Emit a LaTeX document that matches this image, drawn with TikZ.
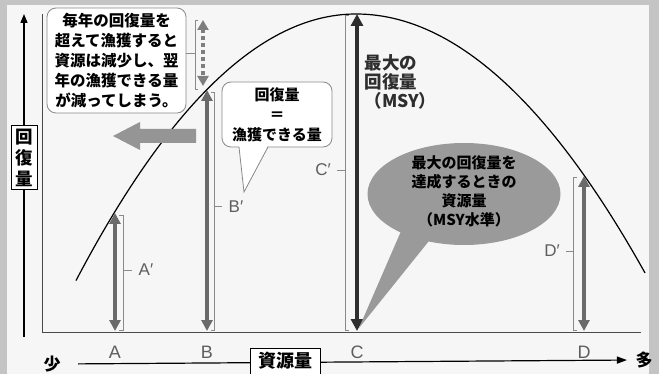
\documentclass[tikz,border=0pt]{standalone}
\usepackage{fontspec}
\setmainfont{Noto Sans CJK JP}
\newfontfamily\latinf{Liberation Sans}
\usetikzlibrary{arrows.meta,shapes.geometric}
\definecolor{bgout}{HTML}{C4C4C4}
\definecolor{bgin}{HTML}{F6F6F6}
\definecolor{arrgray}{HTML}{6A6A6A}
\definecolor{darkarr}{HTML}{2E2E2E}
\definecolor{lightarr}{HTML}{7E7E7E}
\definecolor{blockarr}{HTML}{959595}
\definecolor{ellfill}{HTML}{9A9A9A}
\definecolor{thinline}{HTML}{8A8A8A}
\definecolor{lbl}{HTML}{5E5E5E}
\definecolor{framec}{HTML}{4A4A4A}
\begin{document}
\begin{tikzpicture}[x=1pt,y=-1pt,
  grayarrow/.style={line width=3.6pt, arrgray, {Triangle[width=11pt,length=11pt]}-{Triangle[width=11pt,length=11pt]}},
  darkarrow/.style={line width=4pt, darkarr, {Triangle[width=12pt,length=12pt]}-{Triangle[width=12pt,length=12pt]}},
  dasharrow/.style={line width=3.6pt, lightarr, dash pattern=on 4pt off 3pt, {Triangle[width=11pt,length=10pt]}-{Triangle[width=11pt,length=10pt]}},
  bracketline/.style={thinline, line width=0.7pt},
  letterlbl/.style={font=\latinf\fontsize{18}{18}\selectfont, text=lbl},
  primelbl/.style={font=\latinf\fontsize{17}{17}\selectfont, text=lbl},
  callbox/.style={draw=thinline, line width=0.8pt, fill=white, rounded corners=9pt, align=center, inner sep=0pt},
  boldtxt/.style={font=\bfseries\fontsize{15.5}{19.8}\selectfont},
  axisbox/.style={draw=black, line width=1pt, fill=white, inner sep=1pt, font=\bfseries\fontsize{17.5}{21}\selectfont, align=center},
]
\useasboundingbox (0,0) rectangle (659,374);
% background
\fill[bgout] (0,0) rectangle (659,374);
\fill[bgin] (7,5) rectangle (649,374);

% plot frame
\coordinate (f0) at (42,14);
\coordinate (f1) at (42,332);
\coordinate (f2) at (641,332);
\draw[framec, line width=1pt] (f0) -- (f1) -- (f2);

% vertical axis with label box
\node[axisbox, minimum width=26pt, minimum height=64pt] (vax) at (24,158) {回\\復\\量};
\coordinate (vtop) at (24,14);
\coordinate (vbot) at (24,337);
\draw[line width=1.3pt, -{Triangle[width=7pt,length=9pt]}] (vax.north) -- (vtop);
\draw[line width=1.3pt] (vax.south) -- (vbot);

% horizontal axis
\node[font=\bfseries\fontsize{17}{17}\selectfont] (few) at (52,364) {少};
\node[font=\bfseries\fontsize{17}{17}\selectfont] (many) at (644,360) {多};
\draw[line width=1.2pt, -{Triangle[width=7pt,length=10pt]}, shorten <=14pt, shorten >=5pt] (few.east) -- (many.west);
\node[axisbox, minimum width=70pt, minimum height=26pt, font=\bfseries\fontsize{18}{18}\selectfont] (res) at (285,361) {資源量};

% curve
\draw[line width=1.2pt, black] plot[domain=76:356, samples=80] (\x, {14+34*((\x-356)/100)^2})
  -- plot[domain=356:645, samples=80] (\x, {14+31*((\x-356)/100)^2});

% letters on axis
\node[letterlbl] (lA) at (115,352) {A};
\node[letterlbl] (lB) at (207,352) {B};
\node[letterlbl] (lC) at (357,352) {C};
\node[letterlbl] (lD) at (584,352) {D};

% endpoints
\coordinate (Atop) at (115,213);
\coordinate (Abot) at (115,331);
\coordinate (Btop) at (207,90);
\coordinate (Bbot) at (207,331);
\coordinate (Ctop) at (357,14);
\coordinate (Cbot) at (357,331);
\coordinate (Dtop) at (584,176);
\coordinate (Dbot) at (584,331);
\coordinate (Etop) at (203,20);
\coordinate (Ebot) at (203,86);

% brackets
\draw[bracketline] (119,215) -- (123,215) -- (123,330) -- (119,330);
\draw[bracketline] (123,270) -- (132,270);
\node[primelbl] (pA) at (146,270) {A′};

\draw[bracketline] (211,92) -- (214,92) -- (214,330) -- (211,330);
\draw[bracketline] (214,206) -- (222,206);
\node[primelbl] (pB) at (236,207) {B′};

\draw[bracketline] (349,15) -- (345,15) -- (345,330) -- (349,330);
\draw[bracketline] (345,170) -- (337,170);
\node[primelbl] (pC) at (323,170) {C′};

\draw[bracketline] (577,177) -- (573,177) -- (573,330) -- (577,330);
\draw[bracketline] (573,251) -- (566,251);
\node[primelbl] (pD) at (552,251) {D′};

% top-left callout
\node[callbox, boldtxt, minimum width=139pt, minimum height=105pt] (warn) at (116.5,60.5)
  {毎年の回復量を\\超えて漁獲すると\\資源は減少し、翌\\年の漁獲できる量\\が減ってしまう。};
\draw[bracketline] (198,20) -- (195,20) -- (195,89) -- (198,89);
\draw[bracketline] (195,53) -- (warn.east |- 0,53);

% arrows
\draw[grayarrow] (Atop) -- (Abot);
\draw[grayarrow] (Btop) -- (Bbot);
\draw[darkarrow] (Ctop) -- (Cbot);
\draw[grayarrow] (Dtop) -- (Dbot);
\draw[dasharrow] (Etop) -- (Ebot);

% block arrow
\fill[blockarr] (113,136) -- (140,122) -- (140,129) -- (196,129) -- (196,143) -- (140,143) -- (140,150) -- cycle;

% equality callout
\node[callbox, boldtxt, font=\bfseries\fontsize{15}{20}\selectfont, minimum width=110pt, minimum height=65pt] (eq) at (277,114.5)
  {回復量\\＝\\漁獲できる量};
\coordinate (eqtip) at (244,192);
\fill[white] (239,145) -- (eqtip) -- (268,145) -- cycle;
\draw[thinline, line width=0.8pt] (239,147) -- (eqtip) -- (268,147);

% MSY label
\node[anchor=west, align=left, text=darkarr, font=\bfseries\fontsize{17.5}{19}\selectfont] (msy) at (361,81.5)
  {最大の\\回復量\\（MSY）};

% ellipse callout
\node[ellipse, fill=ellfill, minimum width=193pt, minimum height=102pt, inner sep=0pt] (ell) at (464,194) {};
\coordinate (elltip) at (359,328);
\fill[ellfill] (405,222) -- (elltip) -- (441,226) -- cycle;
\node[align=center, font=\bfseries\fontsize{15}{19}\selectfont] (elltext) at (464,191.5)
  {最大の回復量を\\達成するときの\\資源量\\（MSY水準）};
\end{tikzpicture}
\end{document}
